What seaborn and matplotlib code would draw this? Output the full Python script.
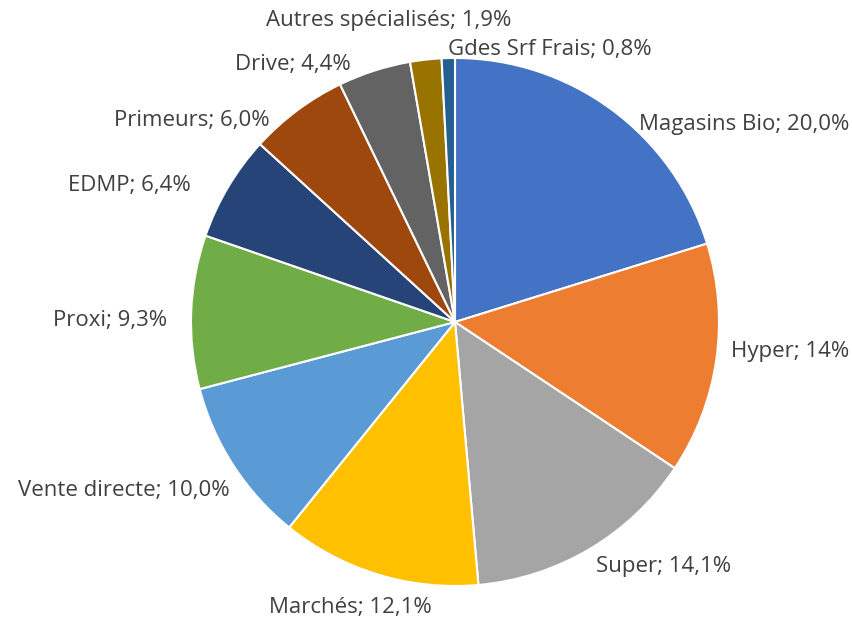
import matplotlib.pyplot as plt
import numpy as np
import seaborn as sns

# parts de marché par circuit de distribution
categories = ["Magasins Bio", "Hyper", "Super", "Marchés", "Vente directe", "Proxi",
              "EDMP", "Primeurs", "Drive", "Autres spécialisés", "Gdes Srf Frais"]
values = [20.0, 14, 14.1, 12.1, 10.0, 9.3, 6.4, 6.0, 4.4, 1.9, 0.8]
value_labels = ["20,0%", "14%", "14,1%", "12,1%", "10,0%", "9,3%",
                "6,4%", "6,0%", "4,4%", "1,9%", "0,8%"]

colors = ["#4472C4", "#ED7D31", "#A5A5A5", "#FFC000", "#5B9BD5", "#70AD47",
          "#264478", "#9E480E", "#636363", "#997300", "#255E91"]

# label offsets (pixels) from the wedge's outer mid point to the label centre
label_offsets = [(133, -15), (74, 8), (74, -18), (-28, -33), (-110, -25), (-81, -9),
                 (-99, 2), (-105, -10), (-81, 6), (-37, 39), (102, 9)]

sns.set_theme(style="white")
plt.rcParams["font.family"] = ["Open Sans", "DejaVu Sans"]

W, H = 852, 622
cx, cy, R = 455, 322, 264
lim = 1.2
fig = plt.figure(figsize=(W / 100, H / 100), dpi=100)
ax = fig.add_axes([(cx - lim * R) / W, (H - cy - lim * R) / H, 2 * lim * R / W, 2 * lim * R / H])

wedges, _ = ax.pie(values, colors=colors, startangle=90, counterclock=False,
                   wedgeprops=dict(edgecolor="white", linewidth=1.5))
ax.set_xlim(-lim, lim)
ax.set_ylim(-lim, lim)

for w, cat, lab, off in zip(wedges, categories, value_labels, label_offsets):
    mid = np.deg2rad((w.theta1 + w.theta2) / 2)
    ax.annotate(cat + "; " + lab, xy=(np.cos(mid), np.sin(mid)), xytext=off,
                textcoords="offset pixels", ha="center", va="center",
                fontsize=16, color="#404040")

plt.savefig("out.png", dpi=100)
plt.close()
